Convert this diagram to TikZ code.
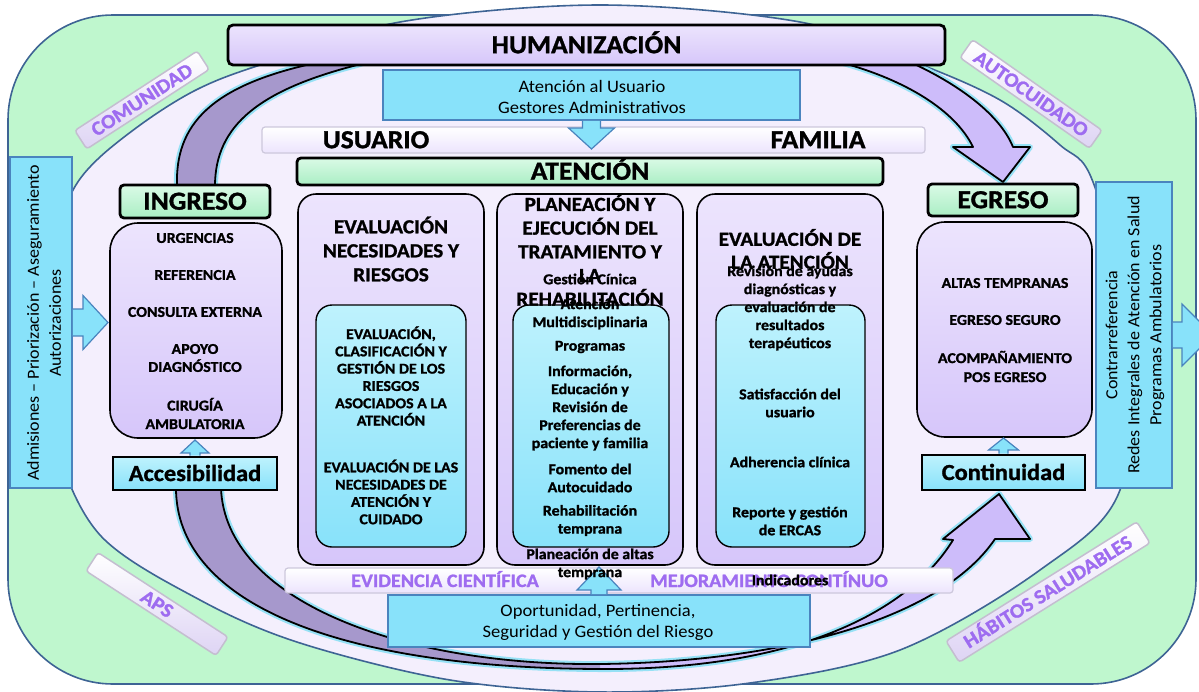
\documentclass[tikz,border=0pt]{standalone}
\usepackage{fontspec}
\setmainfont{Carlito}[FakeStretch=1.06, BoldFeatures={FakeBold=1.2}]
\usetikzlibrary{calc}
\definecolor{frameGreen}{RGB}{191,247,206}
\definecolor{frameLine}{RGB}{62,100,148}
\definecolor{ellFill}{RGB}{244,239,253}
\definecolor{lav}{RGB}{214,198,250}
\definecolor{lavLight}{RGB}{236,228,253}
\definecolor{cyanBox}{RGB}{136,226,250}
\definecolor{cyanLight}{RGB}{190,242,253}
\definecolor{cyanLine}{RGB}{74,132,190}
\definecolor{greenBox}{RGB}{170,238,196}
\definecolor{greenLight}{RGB}{218,250,230}
\definecolor{arcDark}{RGB}{166,152,204}
\definecolor{arcLight}{RGB}{205,188,250}
\definecolor{tagText}{RGB}{158,108,240}
\definecolor{tagFill}{RGB}{222,212,244}
\definecolor{tagLine}{RGB}{196,190,208}
\definecolor{barLine}{RGB}{205,200,220}
\definecolor{glowc}{RGB}{150,225,245}

\newcommand{\ArrUp}[6][]{\filldraw[#1] let \p1=(#2), \p2=(#3) in
  (\x1-#4pt,\y1) -- (\x1-#4pt,\y2-#6pt) -- (\x1-#5pt,\y2-#6pt) -- (\x1,\y2) -- (\x1+#5pt,\y2-#6pt) -- (\x1+#4pt,\y2-#6pt) -- (\x1+#4pt,\y1);}
\newcommand{\ArrDown}[6][]{\filldraw[#1] let \p1=(#2), \p2=(#3) in
  (\x1-#4pt,\y1) -- (\x1-#4pt,\y2+#6pt) -- (\x1-#5pt,\y2+#6pt) -- (\x1,\y2) -- (\x1+#5pt,\y2+#6pt) -- (\x1+#4pt,\y2+#6pt) -- (\x1+#4pt,\y1);}
\newcommand{\ArrRight}[6][]{\filldraw[#1] let \p1=(#2), \p2=(#3) in
  (\x1,\y1-#4pt) -- (\x2-#6pt,\y1-#4pt) -- (\x2-#6pt,\y1-#5pt) -- (\x2,\y1) -- (\x2-#6pt,\y1+#5pt) -- (\x2-#6pt,\y1+#4pt) -- (\x1,\y1+#4pt);}

\newcommand{\TopBandPath}{(177,186) .. controls (175,125) and (210,85) .. (320,62) .. controls (420,20) and (800,20) .. (910,62) .. controls (960,85) and (1000,115) .. (1013,147) -- (1030,147) -- (1003,182) -- (953,147) -- (973,147) .. controls (955,110) and (905,80) .. (843,63) .. controls (760,35) and (440,35) .. (357,65) .. controls (260,90) and (215,125) .. (215,186) -- cycle}
\newcommand{\BotBandPath}{(176,488) .. controls (176,600) and (330,668) .. (600,669) .. controls (800,670) and (910,610) .. (953,540) -- (943,539) -- (999,494) -- (1030,539) -- (995,539) .. controls (940,620) and (780,662) .. (600,664) .. controls (400,666) and (225,600) .. (221,488) -- cycle}

\begin{document}
\begin{tikzpicture}[x=1pt,y=-1pt,
  fb/.style 2 args={font=\bfseries\fontsize{#1}{#2}\selectfont},
  fr/.style 2 args={font=\fontsize{#1}{#2}\selectfont},
  txt/.style={inner sep=0pt, align=center},
  capc/.style={text height=#1, text depth=0pt},
  lavbox/.style={draw=black, line width=1.6pt, top color=lavLight, bottom color=lav, inner sep=0pt},
  cyanin/.style={draw=black, line width=1.4pt, top color=cyanLight, bottom color=cyanBox, rounded corners=16pt, inner sep=0pt},
  greenlbl/.style={draw=black, line width=2.8pt, top color=greenLight, bottom color=greenBox, rounded corners=4pt, inner sep=0pt},
  cyanlbl/.style={draw=black, line width=2.8pt, top color=cyanLight, bottom color=cyanBox, inner sep=0pt},
  bluebox/.style={draw=cyanLine, line width=1.6pt, fill=cyanBox, inner sep=0pt},
  whitebar/.style={draw=barLine, line width=1.2pt, top color=white, bottom color=lavLight, rounded corners=3pt, inner sep=0pt},
  tagbox/.style={draw=tagLine, line width=1.5pt, top color=white, bottom color=tagFill, rounded corners=3pt, inner sep=0pt, text=tagText, fb={20}{20}, capc=12.6pt, minimum height=22pt},
  barrow/.style={draw=cyanLine, line width=1.2pt, fill=cyanBox},
  bandglow/.style={draw=glowc, line width=6pt, line join=round},
  bandline/.style={draw=black, line width=1.8pt, line join=round},
]
\useasboundingbox (0,0) rectangle (1199,691);

% frame and oval
\draw[fill=frameGreen, draw=frameLine, line width=1.6pt, rounded corners=105pt] (8,15) rectangle (1196,684);
\draw[fill=ellFill, draw=frameLine, line width=1.6pt] plot[smooth cycle, tension=0.55] coordinates {(600,5) (800,22) (917,63) (1000,100) (1060,145) (1093,182) (1130,330) (1120,490) (1040,570) (900,650) (750,683) (600,692) (450,680) (300,643) (200,600) (100,535) (55,440) (45,330) (55,240) (73,190) (100,157) (150,118) (200,88) (260,65) (400,22)};

% diagonal tags
\node[tagbox, rotate=33, minimum width=146pt] (comunidad) at (142,100) {COMUNIDAD};
\node[tagbox, rotate=-35, minimum width=158pt] (autocuidado) at (1031,94) {AUTOCUIDADO};
\node[tagbox, rotate=-33, minimum width=155pt] (aps) at (157,604) {APS};
\node[tagbox, rotate=32, minimum width=225pt, minimum height=25pt] (habitos) at (1048,592) {HÁBITOS SALUDABLES};

% curved bands
\path[bandglow] \TopBandPath;
\fill[arcLight] \TopBandPath;
\begin{scope}\clip (0,0) rectangle (600,691); \fill[arcDark] \TopBandPath; \end{scope}
\path[bandline] \TopBandPath;

\path[bandglow] \BotBandPath;
\fill[arcLight] \BotBandPath;
\begin{scope}\clip (0,0) rectangle (600,691); \fill[arcDark] \BotBandPath; \end{scope}
\path[bandline] \BotBandPath;

% top bars
\node[whitebar, minimum width=663pt, minimum height=26pt] (uf) at (593.5,140) {};
\node[fb={26}{26}, capc=16.4pt, inner sep=0pt] (usuario) at (376,140) {USUARIO};
\node[fb={26}{26}, capc=16.4pt, inner sep=0pt] (familia) at (818,140) {FAMILIA};
\node[bluebox, minimum width=417pt, minimum height=50pt] (aus) at (591.5,95) {};
\node[txt, fr={17.5}{21}] (austxt) at (592,97) {Atención al Usuario\\Gestores Administrativos};
\coordinate (ausTip) at (594,149);
\ArrDown[barrow]{aus.south}{ausTip}{9}{23}{21}
\node[draw=black, line width=2.8pt, top color=lavLight, bottom color=lav, rounded corners=5pt, inner sep=0pt, minimum width=717pt, minimum height=40pt, fb={26}{26}, capc=16.4pt] (hum) at (586.5,45) {HUMANIZACIÓN};
\node[greenlbl, minimum width=586pt, minimum height=27pt, fb={26}{26}, capc=16.4pt] (atencion) at (590,171.5) {ATENCIÓN};

% left side: admissions, ingreso
\node[bluebox, minimum width=62pt, minimum height=331pt] (adm) at (41,322.5) {};
\node[txt, fr={17}{22}, rotate=90] (admtxt) at (44,323) {Admisiones – Priorización – Aseguramiento\\Autorizaciones};
\node[greenlbl, minimum width=150pt, minimum height=33pt, fb={26}{26}, capc=16.4pt] (ingreso) at (195,201.5) {INGRESO};
\node[lavbox, rounded corners=28pt, minimum width=172pt, minimum height=215pt] (ingbox) at (196,330.5) {};
\node[cyanlbl, minimum width=164pt, minimum height=33pt, fb={23}{23}, capc=15pt] (acc) at (195,473.5) {Accesibilidad};
\coordinate (accTip) at (197,440);
\ArrUp[barrow]{acc.north}{accTip}{5}{14}{13}
\coordinate (admTip) at (108,324);
\ArrRight[barrow]{adm.east}{admTip}{13.5}{27}{25}
\node[txt, fb={15}{18}] (urg) at (195,238) {URGENCIAS};
\node[txt, fb={15}{18}] (ref) at (195,275) {REFERENCIA};
\node[txt, fb={15}{18}] (cext) at (195,312) {CONSULTA EXTERNA};
\node[txt, fb={15}{18}] (apoyo) at (195,358) {APOYO\\DIAGNÓSTICO};
\node[txt, fb={15}{18.5}] (cir) at (195,413.5) {CIRUGÍA\\AMBULATORIA};

% right side: egreso, contrarreferencia
\node[bluebox, minimum width=76pt, minimum height=306pt] (red) at (1134,335) {};
\node[txt, fr={17}{22}, rotate=90] (redtxt) at (1135,335) {Contrarreferencia\\Redes Integrales de Atención en Salud\\Programas Ambulatorios};
\coordinate (redTip) at (1213,334);
\ArrRight[barrow]{red.east}{redTip}{13}{31}{31}
\node[greenlbl, minimum width=150pt, minimum height=32pt, fb={26}{26}, capc=16.4pt] (egreso) at (1003,200) {EGRESO};
\node[lavbox, rounded corners=28pt, minimum width=175pt, minimum height=215pt] (egbox) at (1004.5,329.5) {};
\node[cyanlbl, minimum width=163pt, minimum height=35pt, fb={23}{23}, capc=15pt] (cont) at (1003.5,472.5) {Continuidad};
\coordinate (contTip) at (1003,438);
\ArrUp[barrow]{cont.north}{contTip}{4.5}{15}{12}
\node[txt, fb={15}{18}] (altas) at (1005,283) {ALTAS TEMPRANAS};
\node[txt, fb={15}{18}] (egseg) at (1005,320) {EGRESO SEGURO};
\node[txt, fb={15}{19}] (acomp) at (1005,366.5) {ACOMPAÑAMIENTO\\POS EGRESO};

% columns
\node[lavbox, rounded corners=18pt, minimum width=186pt, minimum height=371pt] (col1) at (391,379.5) {};
\node[lavbox, rounded corners=18pt, minimum width=186pt, minimum height=371pt] (col2) at (590,379.5) {};
\node[lavbox, rounded corners=18pt, minimum width=186pt, minimum height=371pt] (col3) at (790,379.5) {};
\node[cyanin, minimum width=150pt, minimum height=242pt] (in1) at (391,426) {};
\node[cyanin, minimum width=156pt, minimum height=242pt] (in2) at (591,426) {};
\node[cyanin, minimum width=149pt, minimum height=242pt] (in3) at (790.5,426) {};

% bottom bar and box
\node[whitebar, minimum width=668pt, minimum height=25pt] (evi) at (619,580.5) {};
\node[fb={19}{19}, capc=12pt, inner sep=0pt, text=tagText] (evitxt) at (445,581) {EVIDENCIA CIENTÍFICA};
\node[fb={19}{19}, capc=12pt, inner sep=0pt, text=tagText] (mejtxt) at (769,581) {MEJORAMIENTO CONTÍNUO};
\node[bluebox, minimum width=422pt, minimum height=52pt] (opo) at (599,621) {};
\node[txt, fr={17.5}{21}] (opotxt) at (598,622) {Oportunidad, Pertinencia,\\Seguridad y Gestión del Riesgo};
\coordinate (opoTip) at (600,567);
\ArrUp[barrow]{opo.north}{opoTip}{8}{22}{23}

% column headings
\node[txt, fb={20}{24}] (h1) at (391,249) {EVALUACIÓN\\NECESIDADES Y\\RIESGOS};
\node[txt, fb={20}{23.7}] (h2) at (590,250) {PLANEACIÓN Y\\EJECUCIÓN DEL\\TRATAMIENTO Y\\LA\\REHABILITACIÓN};
\node[txt, fb={20}{23}] (h3) at (790,249) {EVALUACIÓN DE\\LA ATENCIÓN};

% column 1 text
\node[txt, fb={15}{17.3}] (c1a) at (391,376) {EVALUACIÓN,\\CLASIFICACIÓN Y\\GESTIÓN DE LOS\\RIESGOS\\ASOCIADOS A LA\\ATENCIÓN};
\node[txt, fb={15}{17.3}] (c1b) at (391,492) {EVALUACIÓN DE LAS\\NECESIDADES DE\\ATENCIÓN Y\\CUIDADO};

% column 2 text
\node[txt, fb={15}{18}] (c2a) at (590,279) {Gestión Cínica};
\node[txt, fb={15}{18}] (c2b) at (590,314) {Atención\\Multidisciplinaria};
\node[txt, fb={15}{18}] (c2c) at (590,347) {Programas};
\node[txt, fb={15}{18}] (c2d) at (590,408) {Información,\\Educación y\\Revisión de\\Preferencias de\\paciente y familia};
\node[txt, fb={15}{18}] (c2e) at (590,478) {Fomento del\\Autocuidado};
\node[txt, fb={15}{18}] (c2f) at (590,520.5) {Rehabilitación\\temprana};
\node[txt, fb={15}{18}] (c2g) at (590,564) {Planeación de altas\\temprana};

% column 3 text
\node[txt, fb={15}{18}] (c3a) at (790,308) {Revisión de ayudas\\diagnósticas y\\evaluación de\\resultados\\terapéuticos};
\node[txt, fb={15}{18}] (c3b) at (790,403) {Satisfacción del\\usuario};
\node[txt, fb={15}{18}] (c3c) at (790,462) {Adherencia clínica};
\node[txt, fb={15}{18}] (c3d) at (790,521) {Reporte y gestión\\de ERCAS};
\node[txt, fb={15}{18}] (c3e) at (790,580) {Indicadores};
\end{tikzpicture}
\end{document}
